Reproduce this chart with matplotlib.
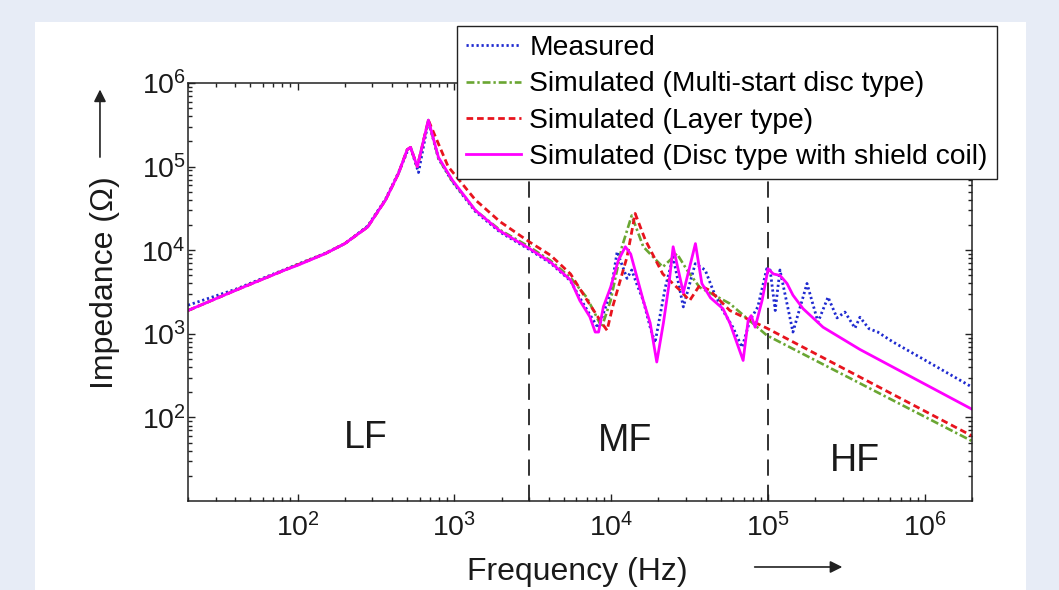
import matplotlib
matplotlib.use('Agg')
import matplotlib.pyplot as plt
import matplotlib.ticker as mticker
from matplotlib.patches import Rectangle, FancyArrowPatch

plt.rcParams['font.family'] = ['Liberation Sans', 'DejaVu Sans']
plt.rcParams['mathtext.fontset'] = 'custom'
plt.rcParams['mathtext.rm'] = 'Liberation Sans'
plt.rcParams['mathtext.it'] = 'Liberation Sans:italic'
plt.rcParams['mathtext.bf'] = 'Liberation Sans:bold'

# measured impedance (Hz, Ohm)
f_meas = [20, 40, 83, 150, 200, 280, 364, 440, 500, 530, 590, 682, 791, 970,
          1360, 1950, 3000, 4100, 5500, 6300, 7300, 8260, 9900, 10900, 12600,
          13500, 14500, 16000, 17700, 19000, 22100, 24800, 28800, 34300, 39700,
          44600, 51500, 59600, 68200, 76600, 86000, 98000, 103000, 111000,
          119000, 144000, 177000, 208000, 241000, 275000, 309000, 358000,
          385000, 440000, 500000, 625000, 1000000, 2000000]
z_meas = [2200, 3400, 5900, 9200, 12000, 19500, 41000, 85000, 150000, 160000,
          85000, 350000, 125000, 66000, 29000, 16500, 10200, 7000, 4300, 2700,
          1700, 1170, 3100, 9600, 4600, 5800, 4000, 2500, 1200, 780, 3600, 8300,
          2100, 6900, 5800, 3300, 1900, 1200, 690, 1450, 2100, 6000, 5800, 1900,
          5800, 1050, 4000, 1380, 2750, 1550, 1820, 1170, 1580, 1150, 1050, 800,
          485, 230]

# multi-start disc type model
f_multi = [20, 40, 83, 150, 200, 280, 364, 440, 500, 525, 580, 682, 791, 970,
           1360, 1950, 3000, 4100, 5500, 7000, 8700, 9900, 11700, 13500, 16000,
           21300, 26200, 30400, 36600, 57000, 98000, 2000000]
z_multi = [1900, 3300, 5800, 9100, 12000, 19000, 40000, 83000, 160000, 170000,
           100000, 360000, 125000, 67000, 30000, 17500, 11000, 7500, 4700, 2700,
           1200, 2500, 11000, 26000, 11000, 6300, 9100, 5800, 3600, 2300, 960,
           52]

# layer type model
f_layer = [20, 40, 83, 150, 200, 280, 364, 440, 500, 525, 580, 682, 912, 1360,
           1950, 3000, 4100, 5500, 7030, 8700, 9400, 10200, 12600, 14200, 16500,
           21300, 27500, 31600, 36600, 42600, 57000, 98000, 2000000]
z_layer = [1900, 3300, 5800, 9100, 12000, 19000, 40000, 83000, 160000, 170000,
           100000, 360000, 100000, 40000, 22000, 12600, 8700, 5200, 2500, 1350,
           1100, 2100, 8300, 27500, 13200, 5200, 3300, 2500, 3800, 3300, 1900,
           1170, 60]

# disc type with shield coil model
f_shield = [20, 40, 83, 100, 150, 200, 280, 364, 440, 500, 525, 580, 682, 791,
            970, 1360, 1950, 3000, 4100, 5500, 6300, 7300, 7900, 8300, 8900,
            9900, 11100, 12300, 13300, 16000, 17700, 19500, 21500, 23200, 24800,
            28800, 34400, 37800, 42900, 51500, 57000, 69300, 74600, 78000, 82700,
            91500, 100000, 108000, 119000, 132000, 144000, 167000, 224000,
            385000, 625000, 2000000]
z_shield = [1900, 3300, 5800, 6600, 9100, 12000, 19000, 40000, 83000, 160000,
            170000, 100000, 360000, 129000, 69000, 30000, 17000, 10500, 7200,
            4400, 2500, 1600, 1050, 1050, 2100, 3600, 7600, 11000, 9000, 2500,
            1350, 460, 1350, 3600, 11000, 3100, 12000, 4000, 2700, 2000, 1350,
            480, 1450, 1650, 1200, 2500, 6000, 5200, 5000, 4000, 2900, 2000, 1200,
            650, 400, 125]

series_labels = ['Measured',
                 'Simulated (Multi-start disc type)',
                 'Simulated (Layer type)',
                 'Simulated (Disc type with shield coil)']
band_edges = [3000, 100000]
band_names = ['LF', 'MF', 'HF']

fig = plt.figure(figsize=(10.59, 5.90), dpi=100)
fig.patch.set_facecolor('#e7ecf6')
fig.add_artist(Rectangle((0.033, 0.0), 0.936, 0.963, transform=fig.transFigure,
                         facecolor='white', edgecolor='none', zorder=-5))

ax = fig.add_axes([0.1775, 0.1508, 0.7405, 0.7085])
ax.set_zorder(1)
ax.patch.set_alpha(0)
ax.set_xscale('log')
ax.set_yscale('log')

ax.plot(f_meas, z_meas, color='#1f2ad0', lw=2.0, linestyle=(0, (0.8, 1.0)),
        label=series_labels[0])
ax.plot(f_multi, z_multi, color='#6aa632', lw=1.9, linestyle=(0, (3.0, 1.1, 0.9, 1.1)),
        label=series_labels[1])
ax.plot(f_layer, z_layer, color='#e8141e', lw=2.0, linestyle=(0, (2.4, 1.4)),
        label=series_labels[2])
ax.plot(f_shield, z_shield, color='#ff00ff', lw=2.0, linestyle='-',
        label=series_labels[3])

for edge in band_edges:
    ax.axvline(edge, color='#222222', lw=1.3, linestyle=(0, (9, 5)), zorder=1)

ax.text(271, 57, band_names[0], fontsize=27, ha='center', va='center', color='#1a1a1a')
ax.text(12300, 52, band_names[1], fontsize=27, ha='center', va='center', color='#1a1a1a')
ax.text(358000, 30.5, band_names[2], fontsize=27, ha='center', va='center', color='#1a1a1a')

ax.set_xlim(20, 2e6)
ax.set_ylim(10, 1e6)
ax.set_xticks([1e2, 1e3, 1e4, 1e5, 1e6])
ax.set_yticks([1e2, 1e3, 1e4, 1e5, 1e6])
ax.xaxis.set_minor_locator(mticker.LogLocator(base=10, subs=range(2, 10), numticks=20))
ax.yaxis.set_minor_locator(mticker.LogLocator(base=10, subs=range(2, 10), numticks=20))
ax.xaxis.set_minor_formatter(mticker.NullFormatter())
ax.yaxis.set_minor_formatter(mticker.NullFormatter())
ax.tick_params(which='both', direction='in', top=True, right=True,
               colors='#222222', labelcolor='#1a1a1a', width=1.0)
ax.tick_params(which='major', length=5, labelsize=20.5)
ax.tick_params(axis='x', which='major', pad=9)
ax.tick_params(axis='y', which='major', pad=1.5)
ax.tick_params(which='minor', length=3)
for spine in ax.spines.values():
    spine.set_color('#222222')
    spine.set_linewidth(1.1)

ax.set_xlabel('Frequency (Hz)', fontsize=23, color='#1a1a1a')
ax.xaxis.set_label_coords(0.497, -0.135)
ax.set_ylabel('Impedance (\u03a9)', fontsize=23, color='#1a1a1a')
ax.yaxis.set_label_coords(-0.087, 0.523)

# direction arrows next to the axis labels
fig.add_artist(FancyArrowPatch(
    (0.0944, 0.729), (0.0944, 0.853), transform=fig.transFigure,
    arrowstyle='-|>', mutation_scale=18, color='#222222', lw=1.2))
fig.add_artist(FancyArrowPatch(
    (0.710, 0.039), (0.798, 0.039), transform=fig.transFigure,
    arrowstyle='-|>', mutation_scale=18, color='#222222', lw=1.2))

leg = ax.legend(loc='upper left', bbox_to_anchor=(0.4315, 0.956),
                bbox_transform=fig.transFigure, fontsize=20.3, frameon=True,
                fancybox=False, framealpha=1, edgecolor='#222222',
                borderaxespad=0, borderpad=0.33, handlelength=1.95,
                handletextpad=0.28, labelspacing=0.36)
leg.get_frame().set_linewidth(1.0)
leg.set_zorder(10)

fig.savefig('out.png', dpi=100, facecolor=fig.get_facecolor())
